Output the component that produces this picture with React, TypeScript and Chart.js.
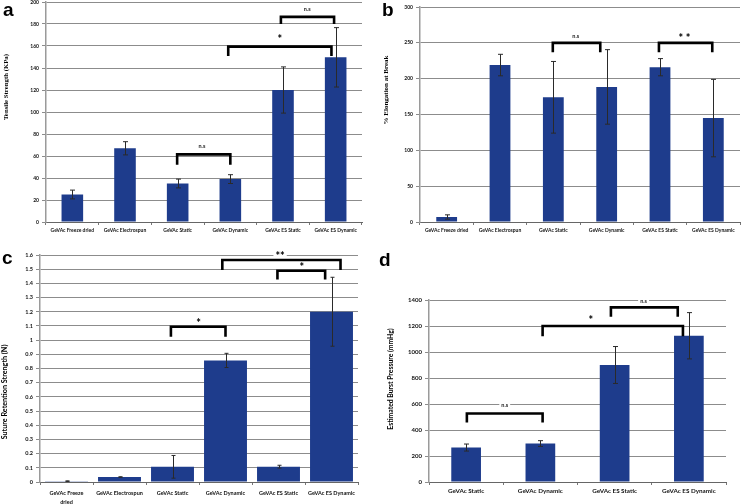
import React, { useEffect, useRef } from 'react';
import { Chart, registerables } from 'chart.js';

Chart.register(...registerables);

// ---------------- DATA ----------------
const sixGroups = ['GeVAc Freeze dried', 'GeVAc Electrospun', 'GeVAc Static', 'GeVAc Dynamic', 'GeVAc ES Static', 'GeVAc ES Dynamic'];
const sixGroupsWrapped = [['GeVAc Freeze', 'dried'], 'GeVAc Electrospun', 'GeVAc Static', 'GeVAc Dynamic', 'GeVAc ES Static', 'GeVAc ES Dynamic'];
const fourGroups = ['GeVAc Static', 'GeVAc Dynamic', 'GeVAc ES Static', 'GeVAc ES Dynamic'];

const tensileMeans = [25, 67, 35, 39, 120, 149.7];
const tensileErrors = [4, 6, 4, 4, 21, 27];

const elongationMeans = [7, 219, 174, 188.5, 216, 145];
const elongationErrors = [3, 15, 50, 52, 12, 54];

const sutureMeans = [0.006, 0.035, 0.107, 0.857, 0.108, 1.2];
const sutureErrors = [0.002, 0.002, 0.08, 0.05, 0.01, 0.243];

const burstMeans = [265, 296, 900, 1125];
const burstErrors = [27, 22, 142, 178];

// significance brackets (category index from/to/text, values in data units)
type Bracket = { from: number; to: number; mid: number; top: number; leg: number; label: string; at: number };

const tensileBrackets: Bracket[] = [
  { from: 1.99, to: 3.0, mid: 2.46, top: 61.5, leg: 52, label: 'n.s', at: 69 },
  { from: 2.96, to: 4.92, mid: 3.94, top: 159.4, leg: 151, label: '*', at: 168 },
  { from: 3.96, to: 4.97, mid: 4.46, top: 186.5, leg: 180, label: 'n.s', at: 193.4 },
];
const elongationBrackets: Bracket[] = [
  { from: 1.99, to: 2.88, mid: 2.42, top: 250, leg: 237, label: 'n.s', at: 259 },
  { from: 3.98, to: 4.98, mid: 4.46, top: 250, leg: 237, label: '* *', at: 259 },
];
const sutureBrackets: Bracket[] = [
  { from: 1.97, to: 3.0, mid: 2.49, top: 1.094, leg: 1.024, label: '*', at: 1.135 },
  { from: 2.94, to: 5.17, mid: 4.03, top: 1.565, leg: 1.494, label: '**', at: 1.607 },
  { from: 3.98, to: 4.88, mid: 4.44, top: 1.489, leg: 1.428, label: '*', at: 1.529 },
];
const burstBrackets: Bracket[] = [
  { from: 0.01, to: 1.03, mid: 0.52, top: 527, leg: 457, label: 'n.s', at: 591 },
  { from: 1.03, to: 2.92, mid: 1.68, top: 1200, leg: 1122, label: '*', at: 1259 },
  { from: 1.95, to: 2.85, mid: 2.39, top: 1343, leg: 1271, label: 'n.s', at: 1394 },
];

const yMaxes = { a: 200, b: 300, c: 1.6, d: 1400 };
const ySteps = { a: 20, b: 50, c: 0.1, d: 200 };

// ---------------- STYLE / LAYOUT ----------------
const BAR_COLOR = '#1e3c8c';
const SANS = 'Lato, "Liberation Sans", sans-serif';
const SERIF = '"Liberation Serif", "DejaVu Serif", serif';

type PanelSpec = {
  canvas: { x: number; y: number; w: number; h: number };
  area: { l: number; t: number; r: number; b: number };
  labels: any[];
  values: number[];
  errors: number[];
  brackets: Bracket[];
  yMax: number;
  yStep: number;
  barPct: number;
  xFont: number;
  xPad: number;
  xLineHeight: number;
  yFont: number;
  cap: number;
};

const panels: PanelSpec[] = [
  {
    canvas: { x: 0, y: -8, w: 370, h: 258 },
    area: { l: 46, t: 2, r: 362, b: 222 },
    labels: sixGroups, values: tensileMeans, errors: tensileErrors, brackets: tensileBrackets,
    yMax: yMaxes.a, yStep: ySteps.a, barPct: 0.41, xFont: 5, xPad: 2, xLineHeight: 1.2, yFont: 5, cap: 2.5,
  },
  {
    canvas: { x: 370, y: -8, w: 371, h: 258 },
    area: { l: 420, t: 7, r: 740, b: 222 },
    labels: sixGroups, values: elongationMeans, errors: elongationErrors, brackets: elongationBrackets,
    yMax: yMaxes.b, yStep: ySteps.b, barPct: 0.39, xFont: 5, xPad: 2, xLineHeight: 1.2, yFont: 5, cap: 2.5,
  },
  {
    canvas: { x: 0, y: 240, w: 370, h: 264 },
    area: { l: 40, t: 255, r: 358, b: 482 },
    labels: sixGroupsWrapped, values: sutureMeans, errors: sutureErrors, brackets: sutureBrackets,
    yMax: yMaxes.c, yStep: ySteps.c, barPct: 0.81, xFont: 5.5, xPad: 3.6, xLineHeight: 1.6, yFont: 5.5, cap: 2,
  },
  {
    canvas: { x: 370, y: 240, w: 371, h: 264 },
    area: { l: 429, t: 300, r: 726, b: 482 },
    labels: fourGroups, values: burstMeans, errors: burstErrors, brackets: burstBrackets,
    yMax: yMaxes.d, yStep: ySteps.d, barPct: 0.4, xFont: 6.3, xPad: 2.5, xLineHeight: 1.2, yFont: 6, cap: 2.5,
  },
];

const titles = [
  { text: 'Tensile Strength (KPa)', cx: 6.3, cy: 87, size: 6.8, family: SERIF },
  { text: '% Elongation at Break', cx: 385.5, cy: 90, size: 7, family: SERIF },
  { text: 'Suture Retention Strength (N)', cx: 4.5, cy: 392, size: 7.2, family: SANS },
  { text: 'Estimated Burst Pressure (mmHg)', cx: 390, cy: 379, size: 6.8, family: SANS },
];

const letters = [
  { text: 'a', x: 3, y: 0 },
  { text: 'b', x: 382, y: 0 },
  { text: 'c', x: 2, y: 248 },
  { text: 'd', x: 379, y: 250 },
];

function ChartPanel({ spec }: { spec: PanelSpec }) {
  const ref = useRef<HTMLCanvasElement | null>(null);
  useEffect(() => {
    const canvas = ref.current;
    if (!canvas) return;
    const { canvas: c, area } = spec;

    const errorBars = {
      id: 'errorBars',
      afterDatasetsDraw(chart: any) {
        const ctx = chart.ctx;
        const y = chart.scales.y;
        const meta = chart.getDatasetMeta(0);
        ctx.save();
        ctx.strokeStyle = '#2a2a2a';
        ctx.lineWidth = 1;
        meta.data.forEach((bar: any, i: number) => {
          const v = spec.values[i];
          const e = spec.errors[i];
          const x = Math.round(bar.x) + 0.5;
          const yt = y.getPixelForValue(v + e);
          const yb = y.getPixelForValue(v - e);
          ctx.beginPath();
          ctx.moveTo(x, yt);
          ctx.lineTo(x, yb);
          ctx.moveTo(x - spec.cap, yt);
          ctx.lineTo(x + spec.cap, yt);
          ctx.moveTo(x - spec.cap, yb);
          ctx.lineTo(x + spec.cap, yb);
          ctx.stroke();
        });
        ctx.restore();
      },
    };

    const brackets = {
      id: 'brackets',
      afterDraw(chart: any) {
        const ctx = chart.ctx;
        const xs = chart.scales.x;
        const ys = chart.scales.y;
        ctx.save();
        spec.brackets.forEach((b) => {
          const x1 = xs.getPixelForValue(b.from);
          const x2 = xs.getPixelForValue(b.to);
          const yt = ys.getPixelForValue(b.top);
          const yl = ys.getPixelForValue(b.leg);
          ctx.strokeStyle = '#000';
          ctx.lineWidth = 2.6;
          ctx.lineJoin = 'miter';
          ctx.beginPath();
          ctx.moveTo(x1, yl);
          ctx.lineTo(x1, yt);
          ctx.lineTo(x2, yt);
          ctx.lineTo(x2, yl);
          ctx.stroke();
          const isStar = b.label.indexOf('*') >= 0;
          const size = isStar ? 11 : 5.5;
          ctx.font = `900 ${size}px ${SANS}`;
          const tx = xs.getPixelForValue(b.mid);
          const ty = ys.getPixelForValue(b.at);
          const w = ctx.measureText(b.label).width;
          const bh = isStar ? 6 : size;
          ctx.fillStyle = '#fff';
          ctx.fillRect(tx - w / 2 - 2, ty - bh / 2, w + 4, bh);
          ctx.fillStyle = isStar ? '#000' : '#333';
          ctx.textAlign = 'center';
          ctx.textBaseline = 'middle';
          ctx.fillText(b.label, tx, isStar ? ty + 2 : ty);
        });
        ctx.restore();
      },
    };

    const chart = new Chart(canvas, {
      type: 'bar',
      data: {
        labels: spec.labels,
        datasets: [
          {
            data: spec.values,
            backgroundColor: BAR_COLOR,
            borderWidth: 0,
            barPercentage: spec.barPct,
            categoryPercentage: 1,
          },
        ],
      },
      options: {
        animation: false,
        responsive: false,
        maintainAspectRatio: false,
        layout: {
          padding: { left: 0, top: area.t - c.y, right: c.x + c.w - area.r, bottom: 0 },
        },
        plugins: { legend: { display: false }, tooltip: { enabled: false } },
        scales: {
          x: {
            grid: { display: true, drawOnChartArea: false, drawTicks: true, tickLength: 3, color: '#777', offset: true },
            border: { display: true, color: '#666', width: 1 },
            ticks: {
              autoSkip: false,
              maxRotation: 0,
              minRotation: 0,
              color: '#111',
              padding: spec.xPad,
              font: { family: SANS, size: spec.xFont, weight: 'bold', lineHeight: spec.xLineHeight },
            },
            afterFit: (s: any) => {
              s.height = c.y + c.h - area.b;
            },
          },
          y: {
            min: 0,
            max: spec.yMax,
            grid: { color: '#8c8c8c', lineWidth: 1, drawTicks: true, tickLength: 4 },
            border: { display: true, color: '#9a9a9a', width: 1.5 },
            ticks: {
              stepSize: spec.yStep,
              color: '#111',
              padding: 3,
              font: { family: SANS, size: spec.yFont, weight: 'bold' },
              callback: (v: any) => String(Math.round(Number(v) * 100) / 100),
            },
            afterFit: (s: any) => {
              s.width = area.l - c.x;
            },
          },
        },
      } as any,
      plugins: [errorBars, brackets],
    });
    return () => chart.destroy();
  }, [spec]);

  const { canvas: c } = spec;
  return (
    <canvas
      ref={ref}
      width={c.w}
      height={c.h}
      style={{ position: 'absolute', left: c.x, top: c.y, width: c.w, height: c.h }}
    />
  );
}

export default function App() {
  return (
    <div
      style={{
        position: 'fixed',
        left: 0,
        top: 0,
        width: 741,
        height: 504,
        background: '#fff',
        overflow: 'hidden',
      }}
    >
      {panels.map((p, i) => (
        <ChartPanel key={i} spec={p} />
      ))}
      {titles.map((t, i) => (
        <div
          key={'t' + i}
          style={{
            position: 'absolute',
            left: t.cx,
            top: t.cy,
            transform: 'translate(-50%, -50%) rotate(-90deg)',
            whiteSpace: 'nowrap',
            fontFamily: t.family,
            fontWeight: 'bold',
            fontSize: t.size,
            lineHeight: 1,
            color: '#000',
          }}
        >
          {t.text}
        </div>
      ))}
      {letters.map((l, i) => (
        <div
          key={'l' + i}
          style={{
            position: 'absolute',
            left: l.x,
            top: l.y,
            fontFamily: '"Liberation Sans", Arial, sans-serif',
            fontWeight: 'bold',
            fontSize: 19,
            lineHeight: '19px',
            color: '#000',
          }}
        >
          {l.text}
        </div>
      ))}
    </div>
  );
}
